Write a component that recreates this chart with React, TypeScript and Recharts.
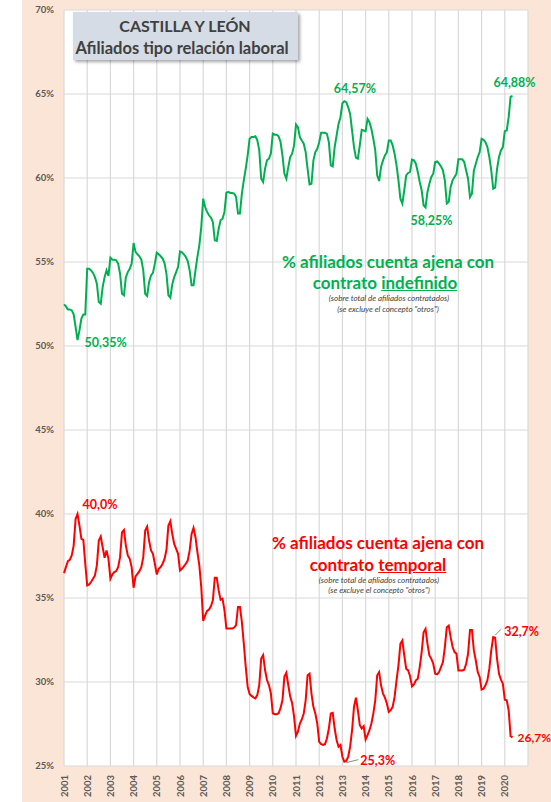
import React from "react"
import { LineChart, Line, XAxis, YAxis, CartesianGrid, ReferenceDot } from "recharts"

const years = [2001, 2002, 2003, 2004, 2005, 2006, 2007, 2008, 2009, 2010, 2011, 2012, 2013, 2014, 2015, 2016, 2017, 2018, 2019, 2020]
const yTicks = [25, 30, 35, 40, 45, 50, 55, 60, 65, 70]

// % afiliados con contrato indefinido, mensual desde ene-2001
const indefinido = [
  52.48, 52.36, 52.18, 52.18, 52.12, 51.88, 51.13, 50.35, 50.93, 51.63, 51.87, 51.87,
  54.6, 54.6, 54.5, 54.35, 54.1, 53.71, 52.62, 52.52, 53.51, 54.1, 54.5, 54.17,
  55.26, 55.14, 55.14, 55.1, 54.9, 54.3, 53.11, 53.02, 54.1, 54.4, 54.6, 54.9,
  56.13, 55.6, 55.46, 55.34, 55.14, 54.5, 53.11, 52.98, 53.8, 54.2, 54.35, 54.9,
  55.56, 55.46, 55.34, 55.2, 54.94, 54.3, 53.02, 52.88, 53.67, 54.1, 54.4, 54.7,
  55.63, 55.58, 55.46, 55.3, 55.06, 54.5, 53.61, 53.61, 54.5, 55.3, 55.99, 57.08,
  58.77, 58.27, 57.98, 57.78, 57.64, 57.38, 56.29, 56.25, 56.98, 57.48, 57.58, 57.98,
  59.13, 59.17, 59.11, 59.11, 59.07, 58.87, 57.88, 57.88, 59.07, 59.86, 60.56, 61.35,
  62.34, 62.44, 62.44, 62.48, 62.24, 61.65, 59.96, 59.76, 60.56, 61.05, 61.15, 61.45,
  62.64, 62.58, 62.58, 62.48, 62.14, 61.35, 60.26, 59.96, 60.65, 61.25, 61.45, 61.94,
  63.18, 63.02, 62.43, 62.23, 62.04, 61.54, 60.55, 59.62, 59.66, 61.05, 61.54, 61.74,
  62.13, 62.69, 62.69, 62.69, 62.63, 62.13, 60.75, 60.69, 61.84, 62.53, 63.22, 63.62,
  64.45, 64.57, 64.51, 64.21, 63.81, 62.83, 61.84, 61.21, 61.15, 61.94, 62.87, 62.83,
  62.79, 63.52, 63.32, 62.92, 62.33, 61.64, 60.16, 59.82, 60.65, 61.05, 61.34, 61.54,
  62.23, 62.23, 61.94, 61.44, 60.75, 59.86, 58.77, 58.48, 59.27, 60.16, 60.3, 60.36,
  61.09, 61.05, 60.85, 60.36, 59.76, 59.27, 58.38, 58.25, 59.17, 59.66, 60.06, 60.26,
  60.95, 60.99, 60.85, 60.69, 60.45, 59.86, 58.48, 58.58, 59.47, 59.86, 60.06, 60.26,
  61.11, 61.11, 61.11, 60.95, 60.45, 59.96, 58.87, 59.07, 60.45, 60.85, 61.25, 61.54,
  62.33, 62.27, 62.13, 61.84, 61.25, 60.45, 59.37, 59.43, 60.55, 61.25, 61.64, 61.84,
  62.79, 62.83, 63.62, 64.84, 64.88,
]

// % afiliados con contrato temporal
const temporal = [
  36.48, 36.84, 37.19, 37.27, 37.53, 38.12, 39.7, 40.0, 39.31, 38.52, 38.46, 37.04,
  35.75, 35.81, 35.95, 36.15, 36.34, 36.94, 38.42, 38.66, 38.02, 37.39, 37.83, 37.33,
  36.15, 36.4, 36.54, 36.6, 36.84, 37.43, 38.91, 39.05, 38.12, 37.53, 37.33, 36.84,
  35.61, 36.28, 36.44, 36.6, 36.84, 37.43, 39.01, 39.25, 38.42, 37.83, 37.63, 37.04,
  36.4, 36.74, 36.84, 37.04, 37.33, 37.87, 39.31, 39.57, 38.81, 38.22, 37.92, 37.63,
  36.64, 36.74, 36.88, 37.04, 37.23, 37.83, 38.81, 39.17, 38.62, 37.73, 36.94, 35.65,
  33.64, 33.97, 34.23, 34.31, 34.51, 34.86, 36.21, 36.21, 35.45, 34.9, 34.96, 34.27,
  33.18, 33.18, 33.18, 33.18, 33.24, 33.38, 34.47, 34.47, 33.58, 32.29, 30.91, 29.72,
  29.29, 29.17, 29.09, 29.03, 29.23, 29.82, 31.4, 31.6, 30.71, 30.12, 29.82, 29.33,
  28.14, 28.08, 28.08, 28.14, 28.44, 28.93, 30.32, 30.55, 29.82, 29.13, 28.74, 27.94,
  26.8, 27.04, 27.53, 27.77, 28.12, 28.91, 30.4, 30.49, 29.31, 28.52, 28.12, 27.53,
  26.44, 26.3, 26.25, 26.3, 26.64, 27.23, 28.12, 28.16, 27.23, 26.54, 26.15, 26.25,
  25.55, 25.26, 25.3, 25.55, 26.15, 27.13, 28.52, 29.07, 28.32, 27.43, 27.23, 27.37,
  26.58, 26.84, 27.13, 27.53, 28.12, 28.91, 30.4, 30.59, 29.8, 29.31, 29.07, 28.72,
  28.22, 28.32, 28.52, 29.11, 30.1, 30.99, 32.27, 32.47, 31.58, 30.79, 30.69, 30.34,
  29.74, 29.86, 30.1, 30.2, 30.89, 31.78, 32.96, 33.16, 32.27, 31.58, 31.38, 31.09,
  30.49, 30.45, 30.59, 30.89, 31.19, 32.08, 33.26, 33.36, 32.67, 32.08, 31.78, 31.68,
  30.69, 30.69, 30.69, 30.73, 31.09, 31.68, 33.1, 33.1, 31.88, 31.28, 30.59, 30.3,
  29.55, 29.6, 29.8, 30.1, 30.79, 31.88, 32.67, 32.63, 31.38, 30.49, 30.14, 29.9,
  28.95, 28.91, 28.32, 26.78, 26.7,
]

const data = indefinido.map((v, i) => ({ t: i, indefinido: v, temporal: temporal[i] }))
const yearTicks = [...years.map((_, i) => i * 12), years.length * 12]

const FONT = "Lato, 'Open Sans', sans-serif"
const GREEN = "#00B050"
const RED = "#FF0000"

const YearTick = ({ x, y, payload }: any) => {
  const idx = payload.value / 12
  if (idx >= years.length) return null
  return (
    <text
      x={x}
      y={y}
      transform={`rotate(-90 ${x} ${y})`}
      textAnchor="end"
      dominantBaseline="central"
      fontFamily={FONT}
      fontSize={9.5}
      fontWeight={700}
      fill="#595959"
    >
      {years[idx]}
    </text>
  )
}

// etiqueta de un punto destacado, con linea guia opcional
const tag = (text: string, color: string, dx: number, dy: number, anchor: string, leader?: number[], size = 12.5) => (props: any) => {
  const vb = props.viewBox || props
  const cx = vb.x + (vb.width || 0) / 2
  const cy = vb.y + (vb.height || 0) / 2
  return (
    <g>
      {leader && (
        <line x1={cx + leader[0]} y1={cy + leader[1]} x2={cx + leader[2]} y2={cy + leader[3]} stroke="#8c8c8c" strokeWidth={1} />
      )}
      <text
        x={cx + dx}
        y={cy + dy}
        textAnchor={anchor}
        dominantBaseline="central"
        fontFamily={FONT}
        fontSize={size}
        fontWeight={700}
        fill={color}
      >
        {text}
      </text>
    </g>
  )
}

const lineStyle = (top: number, center: number, size: number, color: string, extra: any = {}) => ({
  position: "absolute" as const,
  left: center - 160,
  width: 320,
  top: top - size * 0.7,
  height: size * 1.4,
  lineHeight: `${size * 1.4}px`,
  textAlign: "center" as const,
  fontFamily: FONT,
  fontSize: size,
  color,
  whiteSpace: "nowrap" as const,
  ...extra,
})

export default function App() {
  return (
    <div style={{ position: "absolute", left: 0, top: 0, width: 551, height: 802, background: "#fff", overflow: "hidden" }}>
      <div style={{ position: "absolute", left: 22, top: 0, width: 529, height: 802, background: "#FBE5D6" }} />
      <div style={{ position: "absolute", left: 0, top: 0 }}>
        <LineChart width={551} height={802} data={data} margin={{ top: 10, right: 23, bottom: 0, left: 0 }}>
          <CartesianGrid stroke="#d9d9d9" strokeWidth={1.2} fill="#ffffff" />
          <XAxis
            type="number"
            dataKey="t"
            domain={[0, years.length * 12]}
            ticks={yearTicks}
            interval={0}
            height={36}
            tick={<YearTick />}
            tickSize={0}
            tickMargin={9}
            axisLine={false}
            tickLine={false}
          />
          <YAxis
            domain={[25, 70]}
            ticks={yTicks}
            width={64}
            tickFormatter={(v: number) => `${v}%`}
            tick={{ fontFamily: FONT, fontSize: 9.5, fontWeight: 700, fill: "#595959" }}
            tickSize={0}
            tickMargin={10}
            axisLine={false}
            tickLine={false}
          />
          <Line type="linear" dataKey="indefinido" stroke={GREEN} strokeWidth={2} dot={false} isAnimationActive={false} />
          <Line type="linear" dataKey="temporal" stroke={RED} strokeWidth={2} dot={false} isAnimationActive={false} />

          <ReferenceDot x={7} y={indefinido[7]} r={0} stroke="none" label={tag("50,35%", GREEN, 7, 2, "start")} />
          <ReferenceDot x={145} y={indefinido[145]} r={0} stroke="none" label={tag("64,57%", GREEN, 10.5, -13, "middle")} />
          <ReferenceDot x={187} y={indefinido[187]} r={0} stroke="none" label={tag("58,25%", GREEN, 6, 13, "middle")} />
          <ReferenceDot x={232} y={indefinido[232]} r={0} stroke="none" label={tag("64,88%", GREEN, 2, -14, "middle")} />

          <ReferenceDot x={7} y={temporal[7]} r={0} stroke="none" label={tag("40,0%", RED, 5, -10, "start")} />
          <ReferenceDot x={222} y={temporal[222]} r={0} stroke="none" label={tag("32,7%", RED, 11, -6, "start", [2, -2, 8, -8])} />
          <ReferenceDot x={145} y={temporal[145]} r={0} stroke="none" label={tag("25,3%", RED, 16, -1, "start", [2, 1, 14, -2])} />
          <ReferenceDot x={232} y={temporal[232]} r={0} stroke="none" label={tag("26,7%", RED, 5, 0, "start", undefined, 12)} />
        </LineChart>
      </div>

      <div
        style={{
          position: "absolute",
          left: 73,
          top: 12,
          width: 225,
          height: 48,
          background: "#D6DCE5",
          boxShadow: "2px 2px 3px rgba(0,0,0,0.35)",
        }}
      />
      <div style={lineStyle(26, 185, 16, "#404040", { fontWeight: 700 })}>CASTILLA Y LEÓN</div>
      <div style={lineStyle(49, 182, 16.5, "#404040", { fontWeight: 700 })}>Afiliados tipo relación laboral</div>

      <div style={lineStyle(262, 388, 17, GREEN, { fontWeight: 700 })}>% afiliados cuenta ajena con</div>
      <div style={lineStyle(283, 385, 17, GREEN, { fontWeight: 700 })}>
        contrato <span style={{ textDecoration: "underline" }}>indefinido</span>
      </div>
      <div style={lineStyle(299, 389, 8, "#404040", { fontStyle: "italic" })}>(sobre total de afiliados contratados)</div>
      <div style={lineStyle(310, 388, 8, "#404040", { fontStyle: "italic" })}>(se excluye el concepto "otros")</div>

      <div style={lineStyle(543, 378, 17, RED, { fontWeight: 700 })}>% afiliados cuenta ajena con</div>
      <div style={lineStyle(565, 378, 17, RED, { fontWeight: 700 })}>
        contrato <span style={{ textDecoration: "underline" }}>temporal</span>
      </div>
      <div style={lineStyle(581, 379, 8, "#404040", { fontStyle: "italic" })}>(sobre total de afiliados contratados)</div>
      <div style={lineStyle(591, 379, 8, "#404040", { fontStyle: "italic" })}>(se excluye el concepto "otros")</div>
    </div>
  )
}
